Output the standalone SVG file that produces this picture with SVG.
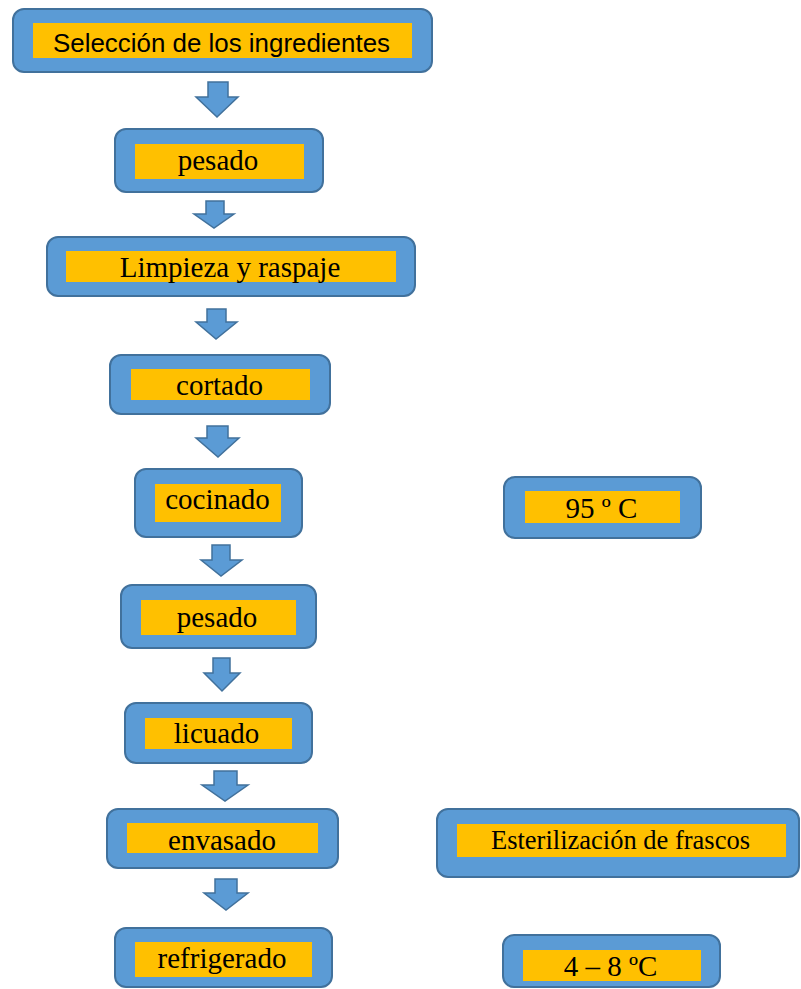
<svg xmlns="http://www.w3.org/2000/svg" width="801" height="989" viewBox="0 0 801 989">
<style>
.box{fill:#5B9BD5;stroke:#41719C;stroke-width:2}
.lab{fill:#FFC000}
.t{font-family:"Liberation Serif","Times New Roman",serif;font-size:29px;fill:#000;text-anchor:middle}
.s{font-family:"Liberation Sans",Arial,sans-serif;font-size:26px;fill:#000;text-anchor:middle}
.arr{fill:#5B9BD5;stroke:#41719C;stroke-width:1.5;stroke-linejoin:miter}
</style>
<rect width="801" height="989" fill="#fff"/>
<g id="connectors">
<path class="arr" d="M208,82 H228 V97 H238 L217,117 L196,97 H208 Z"/>
<path class="arr" d="M206,201 H224 V214 H234 L214,228 L194,214 H206 Z"/>
<path class="arr" d="M207,309 H226 V322 H237 L216,339 L196,322 H207 Z"/>
<path class="arr" d="M207,426 H228 V438 H239 L218,457 L196,438 H207 Z"/>
<path class="arr" d="M212,545 H230 V560 H242 L221,576 L201,560 H212 Z"/>
<path class="arr" d="M213,658 H230 V673 H240 L222,691 L204,673 H213 Z"/>
<path class="arr" d="M214,771 H237 V785 H248 L225,801 L202,785 H214 Z"/>
<path class="arr" d="M215,879 H237 V893 H248 L226,910 L204,893 H215 Z"/>
</g>
<g id="n1">
<rect class="box" x="13" y="9" width="419" height="63" rx="11"/>
<rect class="lab" x="33" y="23" width="379" height="35"/>
<text class="s" x="221.5" y="52" textLength="337" lengthAdjust="spacingAndGlyphs">Selección de los ingredientes</text>
</g>
<g id="n2">
<rect class="box" x="115" y="129" width="208" height="63" rx="11"/>
<rect class="lab" x="135" y="144" width="169" height="35"/>
<text class="t" x="218" y="170">pesado</text>
</g>
<g id="n3">
<rect class="box" x="47" y="237" width="368" height="59" rx="11"/>
<rect class="lab" x="66" y="251" width="330" height="31"/>
<text class="t" x="230" y="277">Limpieza y raspaje</text>
</g>
<g id="n4">
<rect class="box" x="110" y="355" width="220" height="59" rx="11"/>
<rect class="lab" x="131" y="369" width="179" height="31"/>
<text class="t" x="219.5" y="395">cortado</text>
</g>
<g id="n5">
<rect class="box" x="135" y="469" width="167" height="68" rx="11"/>
<rect class="lab" x="155" y="484" width="126" height="38"/>
<text class="t" x="217.5" y="509">cocinado</text>
</g>
<g id="n5b">
<rect class="box" x="504" y="477" width="197" height="61" rx="11"/>
<rect class="lab" x="525" y="491" width="155" height="32"/>
<text class="t" x="601.5" y="518">95 º C</text>
</g>
<g id="n6">
<rect class="box" x="121" y="585" width="195" height="63" rx="11"/>
<rect class="lab" x="141" y="600" width="155" height="35"/>
<text class="t" x="217" y="627">pesado</text>
</g>
<g id="n7">
<rect class="box" x="125" y="703" width="187" height="60" rx="11"/>
<rect class="lab" x="145" y="718" width="147" height="31"/>
<text class="t" x="216.5" y="743">licuado</text>
</g>
<g id="n8">
<rect class="box" x="107" y="809" width="231" height="59" rx="11"/>
<rect class="lab" x="127" y="823" width="191" height="30"/>
<text class="t" x="222" y="850">envasado</text>
</g>
<g id="n8b">
<rect class="box" x="437" y="809" width="362" height="68" rx="11"/>
<rect class="lab" x="457" y="824" width="329" height="33"/>
<text class="t" x="620.5" y="849" style="font-size:26.5px">Esterilización de frascos</text>
</g>
<g id="n9">
<rect class="box" x="115" y="928" width="217" height="59" rx="11"/>
<rect class="lab" x="135" y="942" width="177" height="35"/>
<text class="t" x="222" y="968">refrigerado</text>
</g>
<g id="n9b">
<rect class="box" x="503" y="935" width="217" height="52" rx="11"/>
<rect class="lab" x="523" y="950" width="178" height="31"/>
<text class="t" x="610.5" y="976">4 – 8 ºC</text>
</g>
</svg>
